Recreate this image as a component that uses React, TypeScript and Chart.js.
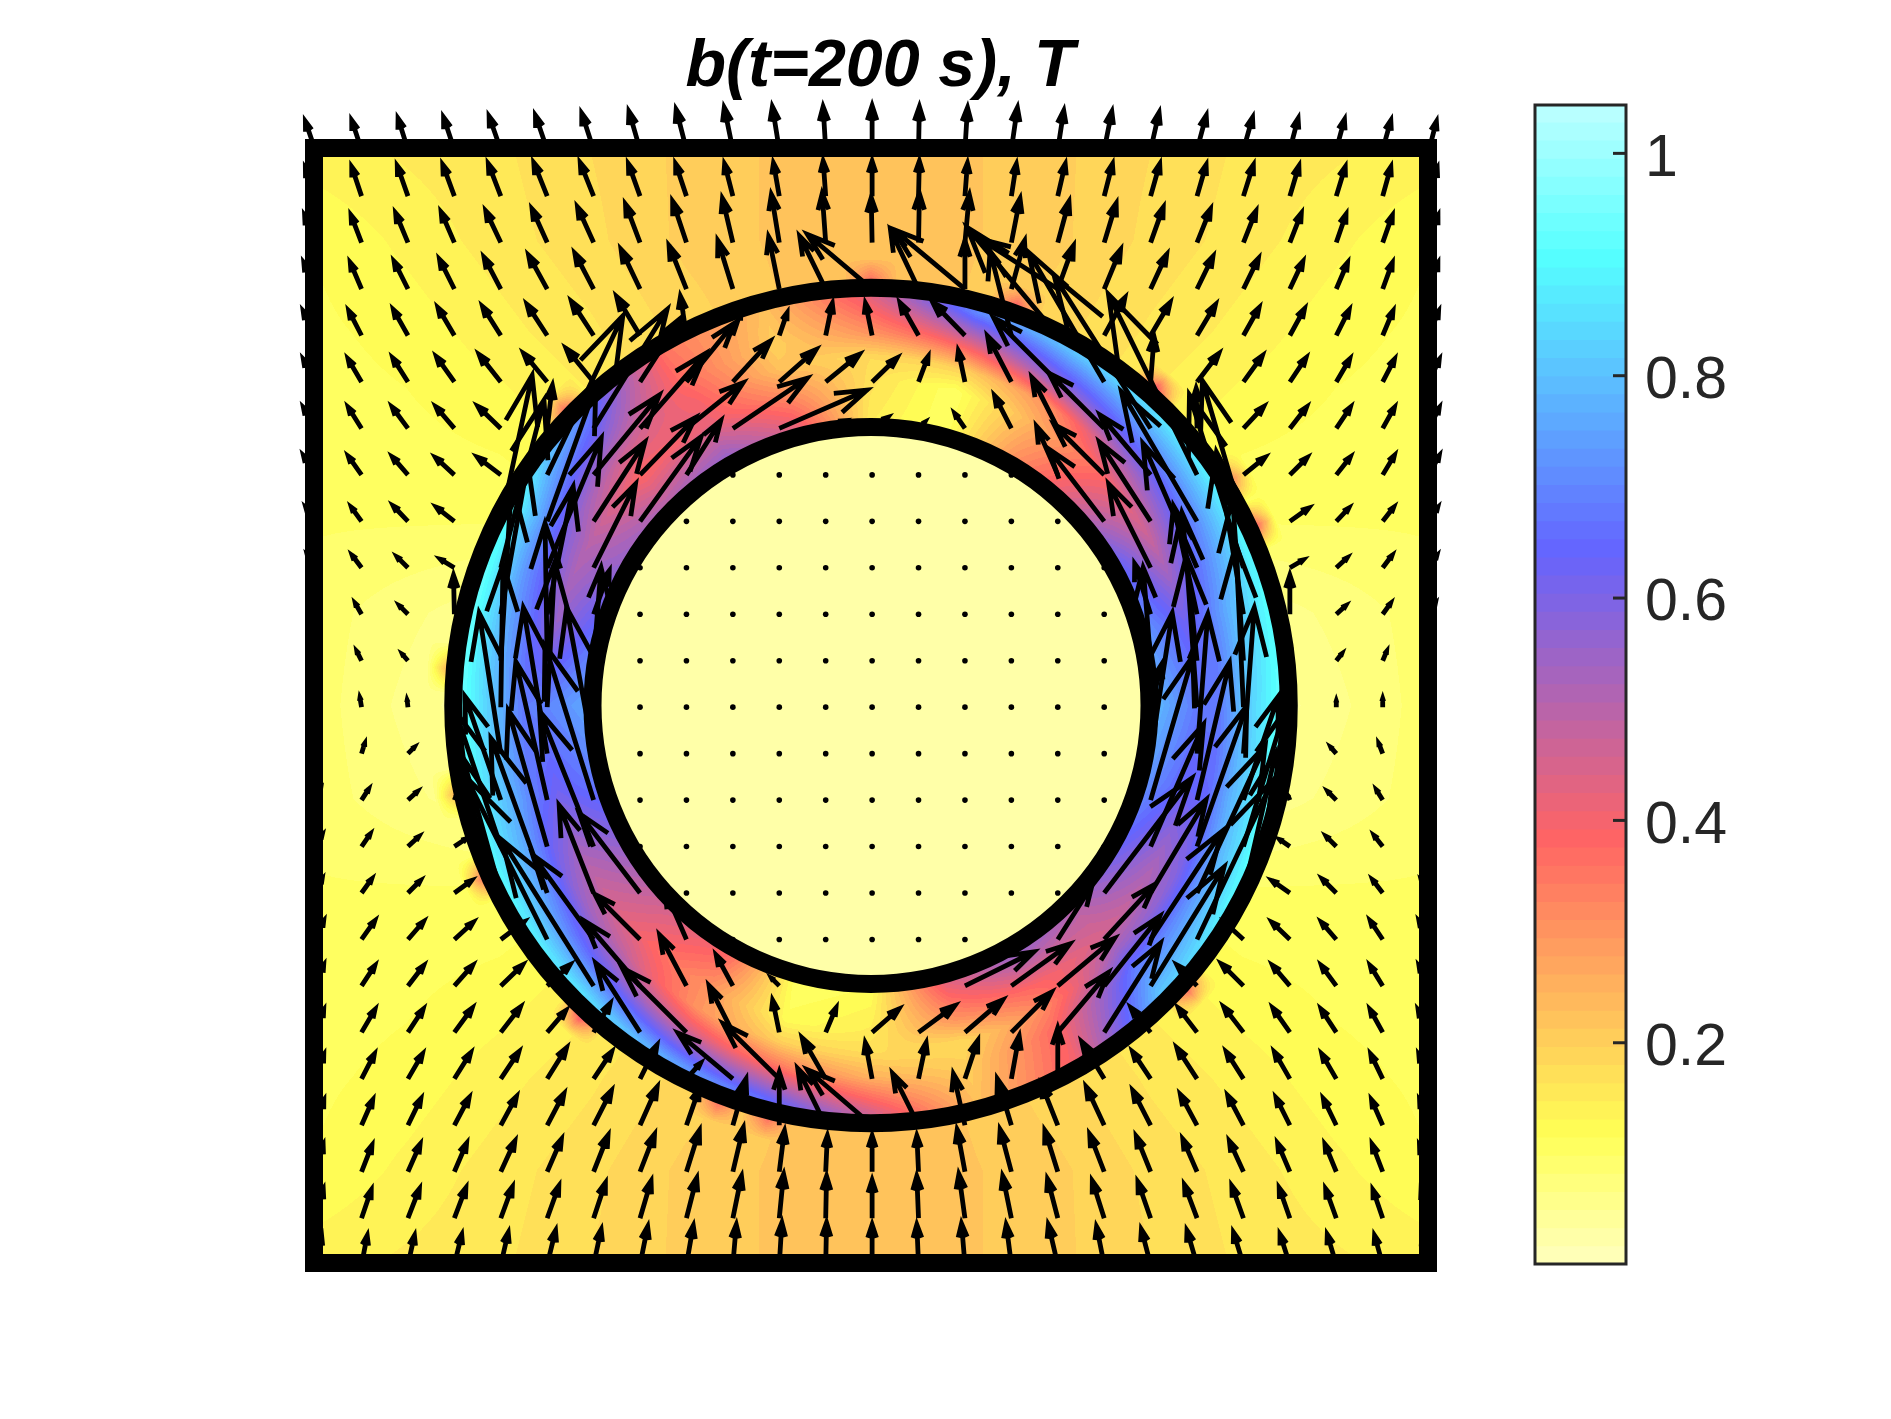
import React, { useEffect, useRef } from "react";
import { Chart, registerables } from "chart.js";

Chart.register(...registerables);

const TITLE = "b(t=200 s), T";
const CB_TICKS = [0.2, 0.4, 0.6, 0.8, 1];
const VMIN = 0.001;
const VMAX = 1.0435;
const LEVELS = 64;
const CMAP_VALUES = [0, 0.118, 0.382, 0.641, 0.906, 1.0435];
const CMAP_R = [255, 255, 255, 100, 85, 190];
const CMAP_G = [255, 255, 100, 100, 255, 255];
const CMAP_B = [190, 85, 100, 255, 255, 255];

const R_INNER = 0.5;
const R_OUTER = 0.75;
const HOLE_VALUE = 0.03;

// |B| in the ring: rows are angles, columns radii
const RING_ANGLES = [-180, -165, -150, -135, -120, -105, -90, -75, -60, -45, -30, -15, 0, 15, 30, 45, 60, 75, 90, 105, 120, 135, 150, 165, 180];
const RING_RADII = [0.517, 0.583, 0.625, 0.667, 0.729];
const RING_B = [
  [0.75, 0.7, 0.68, 0.78, 0.92],
  [0.68, 0.62, 0.68, 0.78, 0.9],
  [0.55, 0.5, 0.58, 0.72, 0.88],
  [0.45, 0.4, 0.48, 0.6, 0.85],
  [0.38, 0.3, 0.3, 0.45, 0.75],
  [0.1, 0.12, 0.2, 0.35, 0.65],
  [0.12, 0.15, 0.18, 0.25, 0.45],
  [0.42, 0.3, 0.18, 0.2, 0.22],
  [0.55, 0.38, 0.32, 0.38, 0.4],
  [0.5, 0.45, 0.55, 0.68, 0.8],
  [0.62, 0.52, 0.58, 0.72, 0.88],
  [0.72, 0.63, 0.65, 0.78, 0.92],
  [0.78, 0.68, 0.68, 0.8, 0.92],
  [0.72, 0.62, 0.68, 0.78, 0.9],
  [0.62, 0.48, 0.6, 0.7, 0.88],
  [0.45, 0.38, 0.5, 0.65, 0.85],
  [0.3, 0.25, 0.3, 0.55, 0.8],
  [0.1, 0.1, 0.2, 0.4, 0.7],
  [0.15, 0.17, 0.18, 0.3, 0.42],
  [0.42, 0.3, 0.22, 0.2, 0.22],
  [0.55, 0.42, 0.4, 0.37, 0.35],
  [0.5, 0.38, 0.45, 0.55, 0.7],
  [0.55, 0.5, 0.58, 0.7, 0.9],
  [0.65, 0.55, 0.65, 0.75, 0.92],
  [0.75, 0.7, 0.68, 0.78, 0.92],
];

// |B| outside the ring: 13 x 13 nodes, top row first
const OUTER_B = [
  [0.14, 0.15, 0.16, 0.18, 0.2, 0.215, 0.22, 0.215, 0.2, 0.18, 0.16, 0.15, 0.14],
  [0.115, 0.135, 0.155, 0.175, 0.2, 0.215, 0.225, 0.215, 0.2, 0.175, 0.155, 0.135, 0.115],
  [0.11, 0.12, 0.14, 0.16, 0.185, 0.21, 0.23, 0.21, 0.185, 0.16, 0.14, 0.12, 0.11],
  [0.105, 0.11, 0.12, 0.14, 0.17, 0.2, 0.22, 0.2, 0.17, 0.14, 0.12, 0.11, 0.105],
  [0.1, 0.1, 0.1, 0.11, 0.14, 0.16, 0.18, 0.16, 0.14, 0.11, 0.1, 0.1, 0.1],
  [0.09, 0.07, 0.05, 0.05, 0.05, 0.05, 0.05, 0.05, 0.05, 0.05, 0.05, 0.07, 0.09],
  [0.09, 0.06, 0.03, 0.03, 0.03, 0.03, 0.03, 0.03, 0.03, 0.03, 0.03, 0.06, 0.09],
  [0.09, 0.07, 0.05, 0.05, 0.05, 0.05, 0.05, 0.05, 0.05, 0.05, 0.05, 0.07, 0.09],
  [0.1, 0.1, 0.1, 0.11, 0.14, 0.16, 0.18, 0.16, 0.14, 0.11, 0.1, 0.1, 0.1],
  [0.105, 0.11, 0.12, 0.14, 0.17, 0.2, 0.22, 0.2, 0.17, 0.14, 0.12, 0.11, 0.105],
  [0.11, 0.12, 0.14, 0.16, 0.185, 0.21, 0.23, 0.21, 0.185, 0.16, 0.14, 0.12, 0.11],
  [0.115, 0.135, 0.155, 0.175, 0.2, 0.215, 0.225, 0.215, 0.2, 0.175, 0.155, 0.135, 0.115],
  [0.14, 0.15, 0.16, 0.18, 0.2, 0.215, 0.22, 0.215, 0.2, 0.18, 0.16, 0.15, 0.14],
];

// small hot spots just outside the outer circle: angle (deg) and peak |B|
const SPOT_ANGLES = [70, 90, 48, 136, 32, 25, -133, -156, -42, -111, -104, 175, -168];
const SPOT_PEAKS = [0.38, 0.36, 0.42, 0.36, 0.32, 0.38, 0.42, 0.34, 0.36, 0.36, 0.36, 0.24, 0.24];

// quiver components on the 25 x 25 grid, top row first
const U = [
  [-12, -12, -12, -13, -14, -14, -14, -13, -12, -10, -8, -3, 0, 1, 3, 7, 7, 9, 10, 11, 11, 10, 10, 10, 9],
  [-12, -12, -13, -14, -15, -16, -16, -14, -13, -10, -7, -3, 0, 1, 3, 6, 9, 10, 11, 11, 12, 11, 11, 10, 10],
  [-13, -13, -15, -16, -18, -18, -19, -17, -16, -12, -9, -4, -1, 1, 5, 10, 13, 14, 15, 16, 15, 14, 12, 12, 11],
  [-14, -14, -17, -18, -20, -22, -22, -22, -20, -17, -12, -29, -70, -31, 0, 15, 18, 19, 19, 19, 18, 16, 14, 12, 11],
  [-15, -16, -18, -20, -22, -24, -26, -27, -7, 10, 10, 8, -8, -22, -37, -23, -84, 24, 23, 22, 19, 18, 16, 13, 12],
  [-15, -17, -19, -22, -26, -28, -32, 45, 52, 42, 42, 39, 30, 12, -8, -27, -69, -70, 4, 26, 23, 20, 17, 15, 13],
  [-15, -17, -20, -23, -28, 6, 68, 70, 62, 80, 94, 25, 20, 8, -13, -20, -29, -60, -89, -1, 25, 21, 18, 15, 13],
  [-15, -17, -20, -24, -29, 70, 70, 60, 38, 0, 0, 0, 0, 0, 0, 0, -24, -55, -55, -82, 27, 22, 18, 15, 13],
  [-12, -13, -19, -23, 29, 45, 55, 65, 0, 0, 0, 0, 0, 0, 0, 0, 0, -60, -55, -70, -38, 24, 16, 14, 11],
  [-10, -12, -14, -18, 40, 50, 45, 0, 0, 0, 0, 0, 0, 0, 0, 0, 0, 0, -45, -50, -50, 17, 14, 12, 10],
  [-8, -8, -11, -1, 25, 24, 18, 0, 0, 0, 0, 0, 0, 0, 0, 0, 0, 0, -18, -25, -25, 0, 12, 10, 8],
  [-5, -6, -7, -2, 10, -2, 8, 0, 0, 0, 0, 0, 0, 0, 0, 0, 0, 0, -8, -14, -10, 2, 7, 5, 4],
  [-1, -2, -1, -1, 2, 7, 0, 0, 0, 0, 0, 0, 0, 0, 0, 0, 0, 0, 13, -10, -7, 0, 0, 0, 0],
  [3, 4, 8, 2, -20, -22, -25, 0, 0, 0, 0, 0, 0, 0, 0, 0, 0, 0, 20, 10, 10, -2, -7, -5, -3],
  [7, 9, 12, 2, -38, -29, -45, 0, 0, 0, 0, 0, 0, 0, 0, 0, 0, 0, 39, 30, 37, -2, -11, -8, -5],
  [9, 11, 14, 15, -42, -36, -50, 0, 0, 0, 0, 0, 0, 0, 0, 0, 0, 0, 49, 46, 38, -13, -13, -11, -8],
  [9, 13, 16, 22, -35, -52, -37, -65, 0, 0, 0, 0, 0, 0, 0, 0, 0, 81, 59, 63, 30, -23, -18, -13, -10],
  [11, 17, 20, 24, 29, -75, -65, -50, -24, 0, 0, 0, 0, 0, 0, 0, 38, 55, 66, 70, -24, -23, -19, -16, -13],
  [11, 17, 20, 23, 27, 28, -85, -60, -30, -20, -10, 3, 2, 3, 75, 64, 62, 60, 68, -25, -27, -22, -19, -16, -13],
  [11, 17, 19, 22, 24, 23, 20, -48, -69, -27, -8, 13, 32, 42, 43, 45, 55, 60, -24, -23, -24, -21, -19, -16, -14],
  [11, 16, 18, 20, 22, 23, 22, 20, 18, -60, -61, -27, -8, 9, 15, 9, 0, -26, -22, -24, -21, -19, -18, -15, -13],
  [11, 14, 16, 18, 19, 20, 21, 20, 15, 15, 0, -31, -70, -29, -13, -16, -19, -21, -21, -20, -19, -17, -16, -14, -12],
  [10, 13, 15, 15, 17, 17, 17, 17, 15, 12, 6, 2, 0, -2, -9, -13, -15, -17, -17, -17, -17, -15, -14, -13, -12],
  [10, 12, 14, 14, 14, 14, 14, 13, 12, 10, 5, 1, 0, -2, -7, -10, -12, -14, -15, -15, -14, -13, -13, -12, -10],
  [8, 7, 8, 9, 9, 10, 9, 9, 8, 4, 3, 1, 0, -2, -4, -6, -11, -9, -11, -12, -12, -12, -11, -10, -9],
];

const V = [
  [35, 36, 38, 39, 40, 41, 43, 45, 47, 49, 50, 50, 51, 50, 49, 49, 46, 45, 44, 41, 39, 38, 37, 36, 35],
  [35, 36, 37, 38, 39, 40, 40, 39, 39, 39, 40, 42, 42, 42, 40, 39, 39, 39, 39, 38, 38, 37, 36, 36, 35],
  [34, 34, 36, 37, 38, 40, 42, 45, 48, 51, 55, 56, 52, 56, 55, 51, 48, 46, 42, 40, 38, 36, 35, 34, 34],
  [33, 33, 34, 36, 38, 40, 42, 46, 50, 55, 59, 59, 59, 65, 55, 55, 50, 46, 41, 39, 37, 34, 33, 33, 33],
  [31, 31, 32, 34, 35, 37, 40, 45, 46, 30, 29, 39, 39, 39, 38, 91, 100, 44, 39, 37, 34, 33, 32, 31, 31],
  [29, 29, 30, 31, 33, 34, 39, 70, 64, 46, 37, 32, 29, 32, 38, 52, 69, 120, 52, 34, 32, 30, 29, 29, 29],
  [27, 27, 27, 27, 27, 50, 110, 80, 50, 54, 41, 10, 14, 8, 19, 39, 57, 60, 140, 47, 27, 27, 27, 27, 27],
  [25, 24, 23, 22, 22, 147, 85, 62, 60, 1, 1, 1, 1, 1, 1, 1, 55, 55, 65, 167, 22, 22, 23, 25, 25],
  [18, 18, 20, 18, 135, 125, 85, 90, 1, 1, 1, 1, 1, 1, 1, 1, 1, 78, 85, 120, 130, 17, 17, 18, 18],
  [16, 16, 14, 11, 155, 120, 90, 1, 1, 1, 1, 1, 1, 1, 1, 1, 1, 1, 90, 115, 160, 10, 13, 16, 16],
  [14, 14, 11, 46, 140, 118, 50, 1, 1, 1, 1, 1, 1, 1, 1, 1, 1, 1, 57, 115, 150, 46, 11, 14, 14],
  [12, 12, 8, 8, 165, 127, 100, 1, 1, 1, 1, 1, 1, 1, 1, 1, 1, 1, 100, 137, 150, 8, 9, 12, 12],
  [10, 12, 9, 6, 132, 134, 50, 1, 1, 1, 1, 1, 1, 1, 1, 1, 1, 1, 50, 140, 150, 6, 8, 11, 10],
  [12, 13, 8, 6, 130, 135, 135, 1, 1, 1, 1, 1, 1, 1, 1, 1, 1, 1, 130, 129, 135, 6, 8, 13, 12],
  [14, 14, 11, 5, 110, 128, 143, 1, 1, 1, 1, 1, 1, 1, 1, 1, 1, 1, 133, 127, 110, 5, 11, 13, 12],
  [15, 16, 13, 10, 125, 126, 125, 1, 1, 1, 1, 1, 1, 1, 1, 1, 1, 1, 113, 130, 125, 9, 13, 14, 14],
  [18, 18, 16, 16, 125, 143, 94, 85, 1, 1, 1, 1, 1, 1, 1, 1, 1, 106, 99, 136, 130, 16, 18, 17, 16],
  [24, 24, 23, 22, 22, 150, 90, 50, 55, 1, 1, 1, 1, 1, 1, 1, 60, 60, 100, 147, 22, 22, 22, 24, 24],
  [27, 26, 26, 26, 26, 26, 135, 70, 57, 37, 10, 3, 2, 3, 37, 46, 52, 75, 110, 26, 27, 26, 26, 26, 26],
  [29, 29, 29, 30, 31, 27, 35, 75, 69, 53, 39, 31, 28, 31, 37, 45, 65, 95, 30, 30, 31, 30, 29, 29, 29],
  [31, 31, 31, 32, 33, 37, 33, 40, 20, 50, 60, 47, 43, 43, 45, 50, 58, 43, 33, 37, 33, 33, 31, 31, 31],
  [32, 32, 33, 34, 35, 38, 41, 45, 43, 53, 60, 63, 60, 58, 58, 53, 48, 45, 41, 37, 36, 34, 33, 32, 32],
  [34, 33, 34, 35, 37, 39, 43, 44, 48, 51, 48, 43, 43, 43, 49, 49, 48, 44, 42, 39, 37, 35, 34, 34, 33],
  [36, 35, 36, 37, 38, 39, 42, 44, 47, 49, 51, 49, 45, 49, 51, 49, 46, 44, 43, 40, 39, 37, 36, 35, 35],
  [36, 36, 36, 37, 39, 41, 42, 45, 46, 47, 49, 49, 47, 47, 48, 47, 47, 45, 42, 41, 39, 37, 37, 36, 35],
];

// a few grid nodes carry a second arrow where the outer circle passes through them
const EXTRA_COL = [14, 16];
const EXTRA_ROW = [3, 3];
const EXTRA_U = [-77, -84];
const EXTRA_V = [64, 54];

const GRID_N = 25;
const GRID_X_SHIFT = 0.002;
const GRID_Y_SHIFT = -0.003;
const VEC_SCALE = 1 / 557;
const LONG_ARROW = 118;
const LONG_ARROW_GAIN = 1.08;

function lerpStops(v: number, ys: number[]) {
  let i = 0;
  while (i < CMAP_VALUES.length - 2 && v > CMAP_VALUES[i + 1]) i++;
  const t = (v - CMAP_VALUES[i]) / (CMAP_VALUES[i + 1] - CMAP_VALUES[i]);
  return ys[i] + (ys[i + 1] - ys[i]) * Math.min(1, Math.max(0, t));
}

const LUT: number[][] = Array.from({ length: LEVELS }, (_, k) => {
  const v = ((k + 0.5) / LEVELS) * VMAX;
  return [lerpStops(v, CMAP_R), lerpStops(v, CMAP_G), lerpStops(v, CMAP_B)];
});

function ringValue(thetaDeg: number, r: number) {
  const ta = Math.min(RING_ANGLES.length - 1.0001, Math.max(0, (thetaDeg + 180) / 15));
  const i = Math.floor(ta);
  const ft = ta - i;
  let j = 0;
  while (j < RING_RADII.length - 2 && r > RING_RADII[j + 1]) j++;
  const fr = Math.min(1, Math.max(0, (r - RING_RADII[j]) / (RING_RADII[j + 1] - RING_RADII[j])));
  const a = RING_B[i][j] * (1 - fr) + RING_B[i][j + 1] * fr;
  const b = RING_B[i + 1][j] * (1 - fr) + RING_B[i + 1][j + 1] * fr;
  return a * (1 - ft) + b * ft;
}

function outerValue(x: number, y: number) {
  const cx = Math.min(11.9999, Math.max(0, (x + 1) * 6));
  const cy = Math.min(11.9999, Math.max(0, (1 - y) * 6));
  const i = Math.floor(cx);
  const j = Math.floor(cy);
  const fx = cx - i;
  const fy = cy - j;
  const a = OUTER_B[j][i] * (1 - fx) + OUTER_B[j][i + 1] * fx;
  const b = OUTER_B[j + 1][i] * (1 - fx) + OUTER_B[j + 1][i + 1] * fx;
  let v = a * (1 - fy) + b * fy;
  const r = Math.hypot(x, y);
  if (r < R_OUTER + 0.05) {
    const th = (Math.atan2(y, x) * 180) / Math.PI;
    SPOT_ANGLES.forEach((ang, k) => {
      const d = Math.abs(th - ang);
      if (d < 3.5) {
        const s = (1 - d / 3.5) * (1 - (r - R_OUTER) / 0.05);
        v = Math.max(v, v + (SPOT_PEAKS[k] - v) * s * 1.4);
      }
    });
  }
  return v;
}

function field(x: number, y: number) {
  const r = Math.hypot(x, y);
  if (r < R_INNER) return HOLE_VALUE;
  if (r <= R_OUTER) return ringValue((Math.atan2(y, x) * 180) / Math.PI, r);
  return outerValue(x, y);
}

const heatPlugin = {
  id: "heat",
  beforeDatasetsDraw(chart: any) {
    const { ctx, chartArea: a, scales } = chart;
    const w = Math.round(a.right - a.left);
    const h = Math.round(a.bottom - a.top);
    const off = document.createElement("canvas");
    off.width = w;
    off.height = h;
    const oc = off.getContext("2d")!;
    const img = oc.createImageData(w, h);
    const xs = Array.from({ length: w }, (_, i) => scales.x.getValueForPixel(a.left + i + 0.5));
    for (let j = 0; j < h; j++) {
      const y = scales.y.getValueForPixel(a.top + j + 0.5);
      for (let i = 0; i < w; i++) {
        const v = field(xs[i], y);
        const k = Math.min(LEVELS - 1, Math.max(0, Math.floor((v / VMAX) * LEVELS)));
        const c = LUT[k];
        const p = (j * w + i) * 4;
        img.data[p] = c[0];
        img.data[p + 1] = c[1];
        img.data[p + 2] = c[2];
        img.data[p + 3] = 255;
      }
    }
    oc.putImageData(img, 0, 0);
    ctx.drawImage(off, a.left, a.top);
  },
};

const overlayPlugin = {
  id: "overlay",
  afterDatasetsDraw(chart: any) {
    const { ctx, scales } = chart;
    const x = scales.x;
    const y = scales.y;
    ctx.save();
    ctx.strokeStyle = "#000";
    ctx.fillStyle = "#000";
    // circles
    ctx.lineWidth = 18;
    [R_INNER, R_OUTER].forEach((r) => {
      ctx.beginPath();
      ctx.arc(x.getPixelForValue(0), y.getPixelForValue(0), x.getPixelForValue(r) - x.getPixelForValue(0), 0, Math.PI * 2);
      ctx.stroke();
    });
    // arrows
    ctx.lineWidth = 4.8;
    ctx.lineCap = "butt";
    ctx.lineJoin = "miter";
    chart.data.datasets[0].data.forEach((d: any) => {
      const x0 = x.getPixelForValue(d.x);
      const y0 = y.getPixelForValue(d.y);
      const x1r = x.getPixelForValue(d.x + d.u * VEC_SCALE);
      const y1r = y.getPixelForValue(d.y + d.v * VEC_SCALE);
      const lr = Math.hypot(x1r - x0, y1r - y0);
      if (lr < 3) {
        ctx.beginPath();
        ctx.arc(x0, y0, 2.8, 0, Math.PI * 2);
        ctx.fill();
        return;
      }
      // the longest ring arrows were under-read where they overlap
      const keep = lr > LONG_ARROW ? LONG_ARROW_GAIN : (lr - Math.min(7, lr * 0.22)) / lr;
      const dx = (x1r - x0) * keep;
      const dy = (y1r - y0) * keep;
      const x1 = x0 + dx;
      const y1 = y0 + dy;
      const al = 0.33;
      const be = 0.33;
      ctx.beginPath();
      ctx.moveTo(x0, y0);
      ctx.lineTo(x1, y1);
      ctx.moveTo(x1 - al * (dx + be * dy), y1 - al * (dy - be * dx));
      ctx.lineTo(x1, y1);
      ctx.lineTo(x1 - al * (dx - be * dy), y1 - al * (dy + be * dx));
      ctx.stroke();
    });
    // title
    ctx.fillStyle = "#000";
    ctx.font = 'italic bold 66.4px "Liberation Sans"';
    ctx.textAlign = "center";
    ctx.textBaseline = "alphabetic";
    ctx.fillText(TITLE, x.getPixelForValue(0) + 9, 86);
    ctx.restore();
  },
};

const cbFramePlugin = {
  id: "cbFrame",
  afterDatasetsDraw(chart: any) {
    const { ctx, chartArea: a, scales } = chart;
    ctx.save();
    ctx.strokeStyle = "#262626";
    ctx.lineWidth = 3;
    ctx.strokeRect(a.left, a.top, a.right - a.left, a.bottom - a.top);
    CB_TICKS.forEach((v) => {
      const p = scales.y.getPixelForValue(v);
      ctx.beginPath();
      ctx.moveTo(a.right, p);
      ctx.lineTo(a.right - 13, p);
      ctx.stroke();
    });
    ctx.restore();
  },
};

export default function App() {
  const mainRef = useRef<HTMLCanvasElement>(null);
  const cbRef = useRef<HTMLCanvasElement>(null);

  useEffect(() => {
    const arrows: any[] = [];
    for (let r = 0; r < GRID_N; r++) {
      for (let c = 0; c < GRID_N; c++) {
        arrows.push({
          x: (c - 12) / 12 + GRID_X_SHIFT,
          y: (12 - r) / 12 + GRID_Y_SHIFT,
          u: U[r][c],
          v: V[r][c],
        });
      }
    }
    EXTRA_COL.forEach((c, i) => {
      arrows.push({
        x: (c - 12) / 12 + GRID_X_SHIFT,
        y: (12 - EXTRA_ROW[i]) / 12 + GRID_Y_SHIFT,
        u: EXTRA_U[i],
        v: EXTRA_V[i],
      });
    });
    const main = new Chart(mainRef.current!, {
      type: "scatter",
      data: {
        datasets: [
          { label: "B", data: arrows, pointRadius: 0, showLine: false },
          {
            label: "box",
            data: [
              { x: 0, y: -1 },
              { x: -1, y: -1 },
              { x: -1, y: 1 },
              { x: 1, y: 1 },
              { x: 1, y: -1 },
              { x: 0, y: -1 },
            ],
            showLine: true,
            borderColor: "#000",
            borderWidth: 18,
            borderJoinStyle: "miter",
            pointRadius: 0,
            clip: false,
            tension: 0,
          },
        ],
      } as any,
      options: {
        animation: false,
        responsive: false,
        devicePixelRatio: 1,
        layout: { padding: { left: 314, right: 463, top: 148, bottom: 156 } },
        plugins: { legend: { display: false }, tooltip: { enabled: false }, title: { display: false } },
        scales: {
          x: { type: "linear", min: -1, max: 1, display: false },
          y: { type: "linear", min: -1, max: 1, display: false },
        },
      } as any,
      plugins: [heatPlugin, overlayPlugin],
    });

    const cb = new Chart(cbRef.current!, {
      type: "bar",
      data: {
        labels: ["T"],
        datasets: LUT.map((c, k) => ({
          label: String(k),
          data: [[Math.max(VMIN, (k / LEVELS) * VMAX), ((k + 1.02) / LEVELS) * VMAX]],
          backgroundColor: `rgb(${Math.round(c[0])},${Math.round(c[1])},${Math.round(c[2])})`,
          borderWidth: 0,
          grouped: false,
          barPercentage: 1,
          categoryPercentage: 1,
        })),
      } as any,
      options: {
        animation: false,
        responsive: false,
        devicePixelRatio: 1,
        layout: { padding: { left: 35, right: 145, top: 105, bottom: 155 } },
        plugins: { legend: { display: false }, tooltip: { enabled: false } },
        scales: {
          x: { display: false },
          y: {
            type: "linear",
            position: "right",
            min: VMIN,
            max: VMAX,
            afterBuildTicks: (s: any) => {
              s.ticks = CB_TICKS.map((value) => ({ value }));
            },
            afterFit: (s: any) => {
              s.width = 120;
            },
            grid: { display: false, drawTicks: false },
            border: { display: false },
            ticks: {
              padding: 19,
              labelOffset: 6,
              color: "#262626",
              autoSkip: false,
              font: { family: '"Liberation Sans"', size: 59 },
              callback: (v: any) => String(v),
            },
          },
        },
      } as any,
      plugins: [cbFramePlugin],
    });

    return () => {
      main.destroy();
      cb.destroy();
    };
  }, []);

  return (
    <div>
      <canvas ref={mainRef} width={1891} height={1419} style={{ position: "absolute", left: 0, top: 0 }} />
      <canvas ref={cbRef} width={391} height={1419} style={{ position: "absolute", left: 1500, top: 0 }} />
    </div>
  );
}
